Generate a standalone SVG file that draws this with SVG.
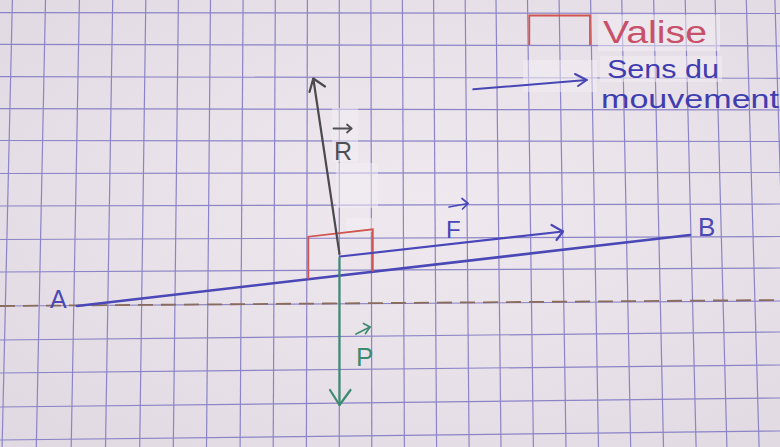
<svg xmlns="http://www.w3.org/2000/svg" width="780" height="447" viewBox="0 0 780 447">
  <defs>
    <radialGradient id="paper" cx="0.55" cy="0.45" r="0.75">
      <stop offset="0" stop-color="#efe9ef"/>
      <stop offset="1" stop-color="#e1d9e2"/>
    </radialGradient>
    <style>
      .grid line { stroke: #8b84c6; stroke-width: 1.2; }
      .patch { fill: #f3f0f3; opacity: 0.5; }
      .hand { font-family: "Liberation Sans", "DejaVu Sans", sans-serif; font-weight: normal; }
      .vec { fill: none; stroke-width: 2.2; stroke-linecap: round; stroke-linejoin: round; }
    </style>
  </defs>

  <!-- paper -->
  <rect width="780" height="447" fill="url(#paper)"/>

  <!-- grid -->
  <g id="grid" class="grid">
    <line x1="12.4" y1="0" x2="2.1" y2="447"/>
    <line x1="45.5" y1="0" x2="36.3" y2="447"/>
    <line x1="79.4" y1="0" x2="71.2" y2="447"/>
    <line x1="112.7" y1="0" x2="105.5" y2="447"/>
    <line x1="145.8" y1="0" x2="139.7" y2="447"/>
    <line x1="178.4" y1="0" x2="173.3" y2="447"/>
    <line x1="210.5" y1="0" x2="206.5" y2="447"/>
    <line x1="243.1" y1="0" x2="240.1" y2="447"/>
    <line x1="275.3" y1="0" x2="273.2" y2="447"/>
    <line x1="307.4" y1="0" x2="306.4" y2="447"/>
    <line x1="339.3" y1="0" x2="339.3" y2="447"/>
    <line x1="370.9" y1="0" x2="371.8" y2="447"/>
    <line x1="402.4" y1="0" x2="404.4" y2="447"/>
    <line x1="433.6" y1="0" x2="436.6" y2="447"/>
    <line x1="465.2" y1="0" x2="469.1" y2="447"/>
    <line x1="496" y1="0" x2="501" y2="447"/>
    <line x1="527.5" y1="0" x2="533.4" y2="447"/>
    <line x1="559.1" y1="0" x2="566" y2="447"/>
    <line x1="590.6" y1="0" x2="598.5" y2="447"/>
    <line x1="621.8" y1="0" x2="630.7" y2="447"/>
    <line x1="653.7" y1="0" x2="663.5" y2="447"/>
    <line x1="685.2" y1="0" x2="696.1" y2="447"/>
    <line x1="715.1" y1="0" x2="726.9" y2="447"/>
    <line x1="746.3" y1="0" x2="759.1" y2="447"/>
    <line x1="774.9" y1="0" x2="788.5" y2="447"/>

    <line x1="0" y1="12.7" x2="780" y2="13.5"/>
    <line x1="0" y1="44.3" x2="780" y2="46"/>
    <line x1="0" y1="76.7" x2="780" y2="78.3"/>
    <line x1="0" y1="108.7" x2="780" y2="110"/>
    <line x1="0" y1="140.5" x2="780" y2="141.5"/>
    <line x1="0" y1="173.5" x2="780" y2="172.5"/>
    <line x1="0" y1="206" x2="780" y2="204"/>
    <line x1="0" y1="239.5" x2="780" y2="236.5"/>
    <line x1="0" y1="272" x2="780" y2="268"/>
    <line x1="0" y1="306" x2="780" y2="301"/>
    <line x1="0" y1="340" x2="780" y2="332"/>
    <line x1="0" y1="373" x2="780" y2="365"/>
    <line x1="0" y1="407" x2="780" y2="398"/>
    <line x1="0" y1="440" x2="780" y2="431"/>
  </g>

  <!-- correction-tape patches -->
  <g id="patches">
    <rect class="patch" x="598" y="15" width="122" height="36"/>
    <rect class="patch" x="523" y="60" width="74" height="32"/>
    <rect class="patch" x="600" y="56" width="122" height="26"/>
    <rect class="patch" x="332" y="108" width="26" height="54"/>
    <rect class="patch" x="336" y="163" width="42" height="45"/>
    <rect class="patch" x="346" y="218" width="26" height="14"/>
  </g>

  <!-- horizontal reference (dashed) -->
  <line id="horizontal" x1="0" y1="306" x2="780" y2="300" stroke="#8a6c5c" stroke-width="1.8" stroke-dasharray="15 8"/>

  <!-- inclined plane AB -->
  <g id="plane">
    <line x1="77" y1="306" x2="690" y2="235" stroke="#4a47b6" stroke-width="2.6" stroke-linecap="round"/>
  </g>
  <g id="node-A">
    <text class="hand" x="50" y="308" font-size="25" fill="#4a48b4">A</text>
  </g>
  <g id="node-B">
    <text class="hand" x="698" y="236" font-size="26" fill="#4a48b4">B</text>
  </g>

  <!-- suitcase -->
  <g id="valise">
    <polyline points="308.3,279 308.3,236.7 372.8,229.3 372.8,271.5" fill="none" stroke="#d0544f" stroke-width="1.8"/>
  </g>

  <!-- force vectors -->
  <g id="connectors">
    <g id="vec-R" class="vec" stroke="#4b4a4e">
      <line x1="339.5" y1="254" x2="313.3" y2="78.5"/>
      <polyline points="309.5,92 313.3,78.5 325,86.5"/>
    </g>
    <g id="vec-F" class="vec" stroke="#4846b8">
      <line x1="340" y1="256.5" x2="563" y2="231.5"/>
      <polyline points="551.5,225 563,231.5 556.5,240"/>
    </g>
    <g id="vec-P" class="vec" stroke="#3c8a70">
      <line x1="339.5" y1="258" x2="339.5" y2="405"/>
      <polyline points="330,390 339.5,405 350.5,390"/>
    </g>
  </g>

  <!-- labels -->
  <g id="label-R">
    <polyline points="333.5,128.5 351.5,128.5" fill="none" stroke="#505054" stroke-width="1.8" stroke-linecap="round"/>
    <polyline points="347,124.5 351.5,128.5 347,132.5" fill="none" stroke="#505054" stroke-width="1.8" stroke-linecap="round" stroke-linejoin="round"/>
    <text class="hand" x="334" y="160" font-size="25" fill="#505054">R</text>
  </g>
  <g id="label-F">
    <polyline points="449,207 468,203.5" fill="none" stroke="#4846b8" stroke-width="1.7" stroke-linecap="round"/>
    <polyline points="462,198.5 468,203.5 462.5,209" fill="none" stroke="#4846b8" stroke-width="1.7" stroke-linecap="round" stroke-linejoin="round"/>
    <text class="hand" x="446" y="238" font-size="24" fill="#4846b8">F</text>
  </g>
  <g id="label-P">
    <polyline points="356,334 370,327" fill="none" stroke="#3c8a70" stroke-width="1.7" stroke-linecap="round"/>
    <polyline points="363.5,323.5 370,327 365.5,333.5" fill="none" stroke="#3c8a70" stroke-width="1.7" stroke-linecap="round" stroke-linejoin="round"/>
    <text class="hand" x="356" y="366" font-size="26" fill="#3c8a70">P</text>
  </g>

  <!-- legend -->
  <g id="legend-valise">
    <polyline points="529.3,45 529.3,15.5 590,15.5 590,45" fill="none" stroke="#d0544f" stroke-width="1.8"/>
    <text class="hand" x="603" y="43" font-size="31" fill="#c8506a" textLength="104" lengthAdjust="spacingAndGlyphs">Valise</text>
  </g>
  <g id="legend-mouvement">
    <line x1="473.3" y1="89.3" x2="586.7" y2="80" stroke="#4846b4" stroke-width="2" stroke-linecap="round"/>
    <polyline points="575,74 586.7,80 578,86" fill="none" stroke="#4846b4" stroke-width="2" stroke-linecap="round" stroke-linejoin="round"/>
    <text class="hand" x="607" y="78" font-size="26" fill="#3f3db0" textLength="112" lengthAdjust="spacingAndGlyphs">Sens  du</text>
    <text class="hand" x="601" y="108" font-size="26" fill="#3f3db0" textLength="178" lengthAdjust="spacingAndGlyphs">mouvement</text>
  </g>
</svg>
